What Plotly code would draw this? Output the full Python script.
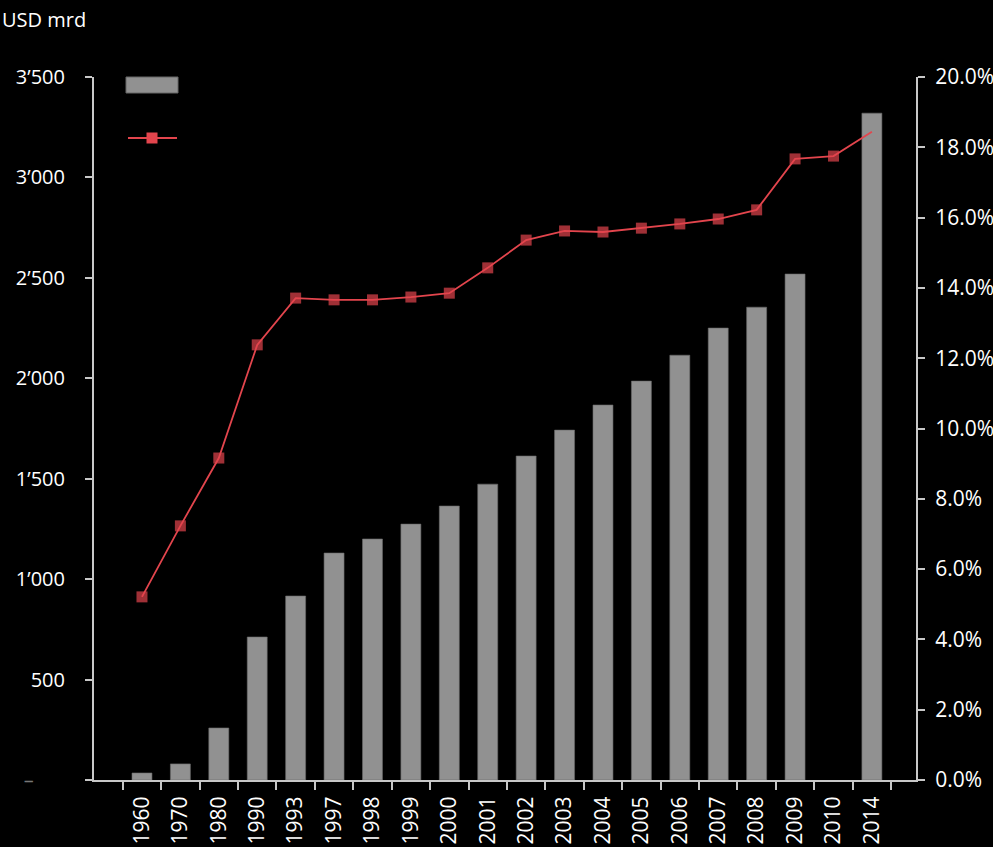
import plotly.graph_objects as go

years = ["1960", "1970", "1980", "1990", "1993", "1997", "1998", "1999", "2000", "2001",
         "2002", "2003", "2004", "2005", "2006", "2007", "2008", "2009", "2010", "2014"]
volume_usd_bn = [35, 80, 259, 712, 916, 1130, 1200, 1274, 1364, 1473,
                 1613, 1742, 1867, 1986, 2115, 2250, 2354, 2519, None, 3320]
share_pct = [5.21, 7.23, 9.16, 12.38, 13.71, 13.66, 13.66, 13.74, 13.85, 14.57,
             15.36, 15.62, 15.59, 15.70, 15.82, 15.96, 16.22, 17.67, 17.75, 18.44]
left_ticks = [0, 500, 1000, 1500, 2000, 2500, 3000, 3500]
left_labels = ["<span style='color:#777'>–</span>\u00a0\u00a0\u00a0\u00a0\u00a0\u00a0",
               "500", "1’000", "1’500", "2’000", "2’500", "3’000", "3’500"]
right_ticks = [0, 2, 4, 6, 8, 10, 12, 14, 16, 18, 20]
right_labels = [f"{v:.1f}%" for v in right_ticks]

BAR = "#919191"
RED = "#e3454d"
AX = "#c8c8c8"
FONT = "Open Sans"

marker_sizes = [11] * (len(years) - 1) + [0]

fig = go.Figure()
fig.add_trace(go.Bar(x=years, y=volume_usd_bn, marker=dict(color=BAR, line=dict(color="#6a6a6a", width=0.6)),
                     width=0.52, yaxis="y", showlegend=False))
fig.add_trace(go.Scatter(x=years, y=share_pct, mode="lines+markers", yaxis="y2",
                         line=dict(color=RED, width=1.8),
                         marker=dict(symbol="square", size=marker_sizes, color=RED,
                                     line=dict(width=0)),
                         showlegend=False))

fig.update_layout(
    width=993, height=847,
    paper_bgcolor="black", plot_bgcolor="black",
    margin=dict(l=94, r=77, t=77, b=67, autoexpand=False),
    font=dict(family=FONT, color="white", size=20),
    xaxis=dict(type="category", showline=True, linecolor=AX, linewidth=2, automargin=False,
               ticks="outside", tickson="boundaries", ticklen=8, tickwidth=2, tickcolor=AX,
               tickangle=-90, tickfont=dict(size=21, color="white"), showgrid=False,
               zeroline=False, ticklabelstandoff=6),
    yaxis=dict(range=[0, 3500], tickvals=left_ticks, ticktext=left_labels, showline=True,
               automargin=False,
               linecolor=AX, linewidth=2, ticks="outside", ticklen=7, tickwidth=2, tickcolor=AX,
               showgrid=False, zeroline=False, tickfont=dict(size=20), ticklabelstandoff=16),
    yaxis2=dict(range=[0, 20], tickvals=right_ticks, ticktext=right_labels, overlaying="y",
                automargin=False,
                side="right", showline=True, linecolor=AX, linewidth=2, ticks="outside",
                ticklen=7, tickwidth=2, tickcolor=AX, showgrid=False, zeroline=False,
                tickfont=dict(size=21), ticklabelstandoff=6),
    annotations=[dict(text="USD mrd", xref="paper", yref="paper", x=-94/822, y=1 + 73/703,
                      xanchor="left", yanchor="top", showarrow=False,
                      font=dict(size=20, color="white"))],
    shapes=[
        dict(type="rect", xref="paper", yref="paper", x0=32/822, x1=84/822,
             y0=(703 - 16)/703, y1=1.0, fillcolor=BAR, line=dict(color="#666", width=1)),
        dict(type="line", xref="paper", yref="paper", x0=34/822, x1=83/822,
             y0=(703 - 61)/703, y1=(703 - 61)/703, line=dict(color=RED, width=1.8)),
        dict(type="rect", xref="paper", yref="paper", x0=52.5/822, x1=63.5/822,
             y0=(703 - 66.5)/703, y1=(703 - 55.5)/703, fillcolor=RED, line=dict(width=0)),
    ],
)

fig.write_html("out.html")
